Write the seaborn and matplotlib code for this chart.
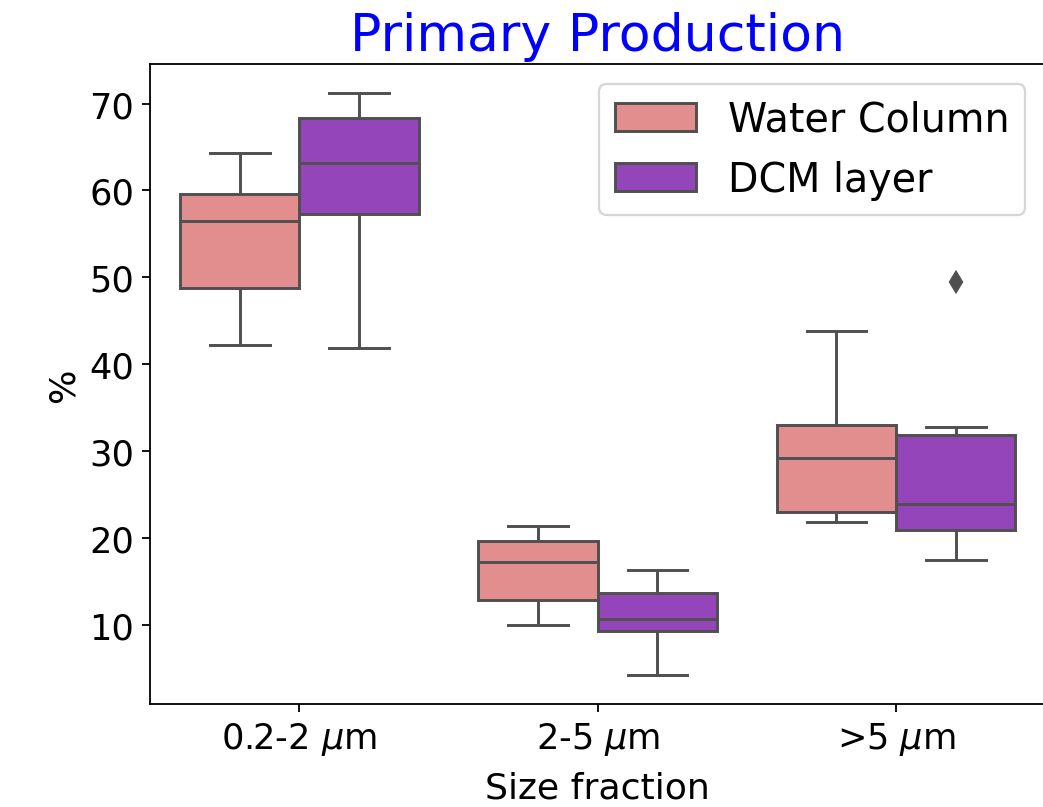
import matplotlib
matplotlib.use("Agg")
import matplotlib.pyplot as plt
import pandas as pd
import seaborn as sns

# Size fractions and layers
fractions = ["0.2-2 $\\mu$m", "2-5 $\\mu$m", ">5 $\\mu$m"]
layers = ["Water Column", "DCM layer"]

# Values (min, q1, median, q3, max; extra points fill in)
wc_small = [42.2, 48.8, 56.5, 59.6, 64.3]
dcm_small = [41.8, 57.3, 63.1, 68.3, 71.2]
wc_mid = [10.0, 12.8, 17.2, 19.6, 21.4]
dcm_mid = [4.2, 9.3, 10.6, 13.6, 16.3]
wc_large = [21.8, 23.0, 29.2, 33.0, 43.8]
dcm_large = [17.4, 19.5, 20.9, 22.5, 23.9, 28.0, 31.8, 32.7, 49.4]

groups = [
    (fractions[0], layers[0], wc_small),
    (fractions[0], layers[1], dcm_small),
    (fractions[1], layers[0], wc_mid),
    (fractions[1], layers[1], dcm_mid),
    (fractions[2], layers[0], wc_large),
    (fractions[2], layers[1], dcm_large),
]
rows = []
for frac, layer, vals in groups:
    for v in vals:
        rows.append({"Size fraction": frac, "Layer": layer, "%": v})
df = pd.DataFrame(rows)

fig = plt.figure(figsize=(6.4, 4.957), dpi=163)
ax = fig.add_axes([0.144, 0.1275, 0.858, 0.792])

sns.boxplot(data=df, x="Size fraction", y="%", hue="Layer",
            order=fractions, hue_order=layers,
            palette=["lightcoral", "darkorchid"], saturation=0.75,
            linecolor="#505050", linewidth=1.3,
            flierprops={"marker": "d", "markerfacecolor": "#505050",
                        "markeredgecolor": "#505050"},
            ax=ax)

ax.set_title("Primary Production", fontsize=23, color="blue")
ax.set_xlabel("Size fraction", fontsize=16, labelpad=6)
ax.set_ylabel("%", fontsize=16)
ax.tick_params(labelsize=15.5)
handles, labels = ax.get_legend_handles_labels()
ax.legend(handles, labels, fontsize=17.5, loc="upper right", handlelength=2.05)

fig.savefig("out.png", dpi=163)
